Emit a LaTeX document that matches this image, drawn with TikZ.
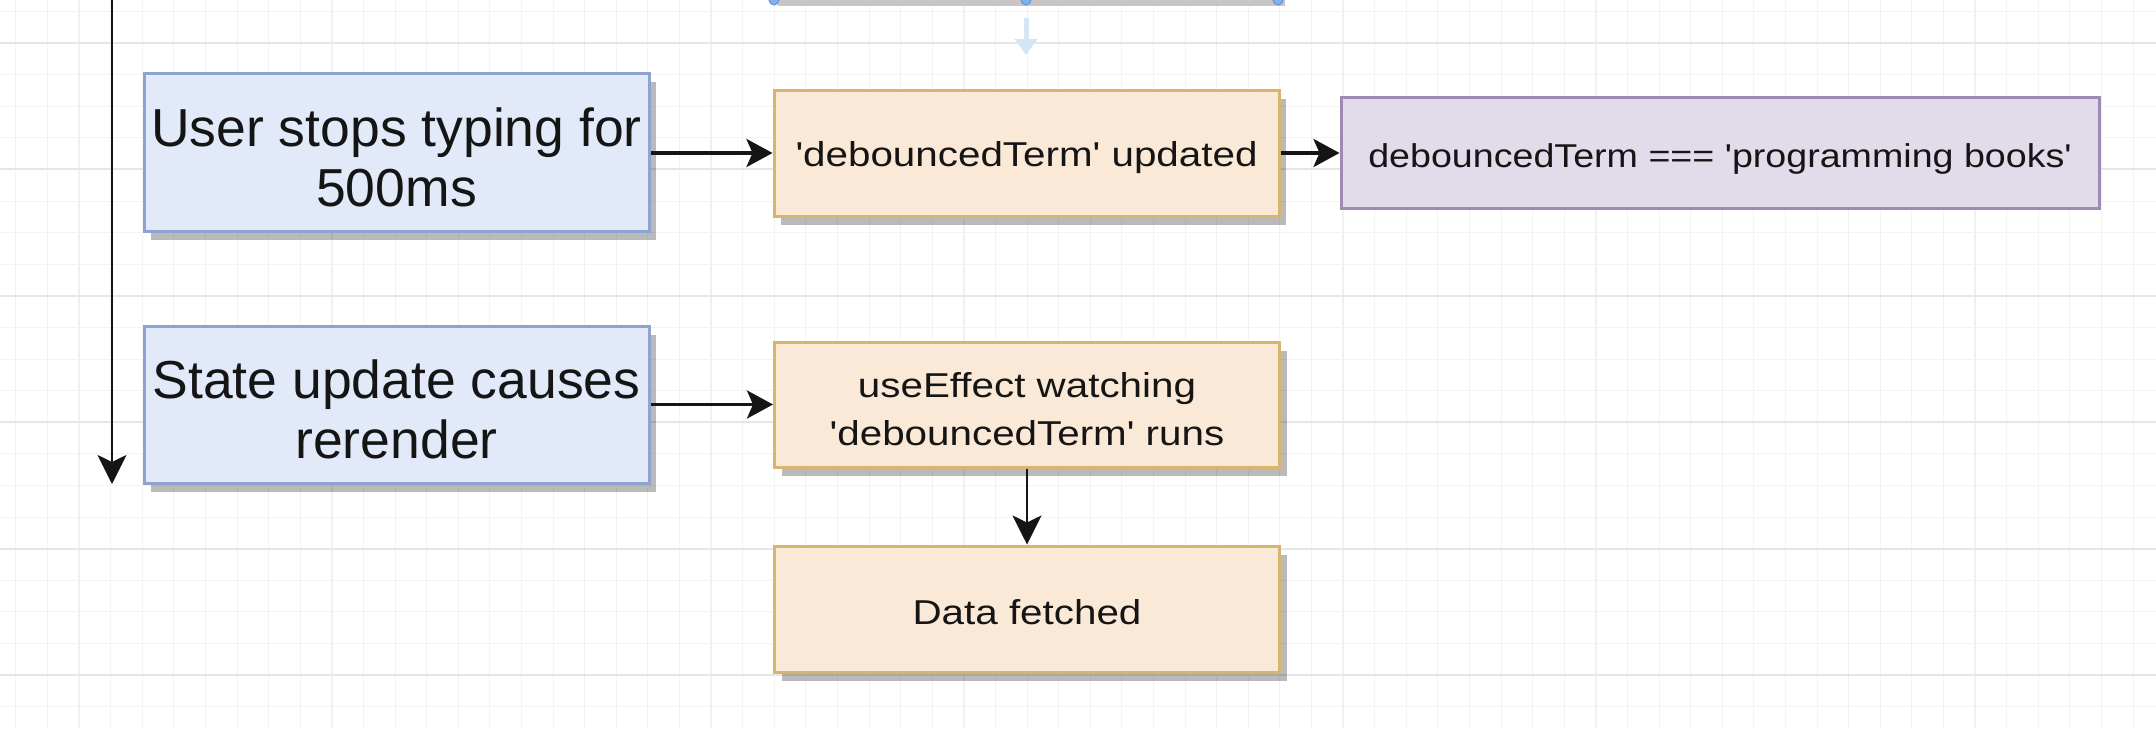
\documentclass[tikz,border=0pt]{standalone}
\usepackage{fontspec}
\setmainfont{Liberation Sans}
\newfontfamily\medfont[FakeStretch=1.17]{Liberation Sans}
\newfontfamily\smfont[FakeStretch=1.14]{Liberation Sans}
\usetikzlibrary{arrows.meta,shadows}
\definecolor{bluefill}{HTML}{E2E9F9}
\definecolor{blueline}{HTML}{8EA3CF}
\definecolor{orfill}{HTML}{FBE9D7}
\definecolor{orline}{HTML}{D8B56E}
\definecolor{pufill}{HTML}{E1DBEA}
\definecolor{puline}{HTML}{9D8BB3}
\definecolor{gridminor}{HTML}{F3F3F3}
\definecolor{gridmajorh}{HTML}{E6E6E6}
\definecolor{gridmajorv}{HTML}{F1F1F1}
\definecolor{topshadow}{HTML}{C8C5C2}
\definecolor{handle}{HTML}{7FB2E5}
\definecolor{fadedblue}{HTML}{D5E5F3}
\definecolor{ink}{HTML}{151515}
\tikzset{
  box/.style={draw, line width=1.5pt, inner sep=0pt},
  shad/.style={drop shadow={shadow xshift=3.5pt, shadow yshift=-4.5pt, opacity=0.27, fill=black}},
  bluebox/.style={box, shad, fill=bluefill, draw=blueline, minimum width=252.5pt},
  orbox/.style={box, shad, fill=orfill, draw=orline, minimum width=252.5pt},
  pubox/.style={box, fill=pufill, draw=puline, minimum width=379pt},
  bigtext/.style={inner sep=0pt, align=center, text=ink, yshift=-2.5pt,
    font=\fontsize{26.75pt}{30pt}\selectfont},
  medtext/.style={inner sep=0pt, align=center, text=ink, yshift=-2.5pt,
    font=\medfont\fontsize{17.25pt}{24pt}\selectfont},
  smtext/.style={inner sep=0pt, align=center, text=ink, yshift=-3pt,
    font=\smfont\fontsize{16.5pt}{22pt}\selectfont},
  harrow/.style={draw=ink, line width=1.8pt, -{Stealth[length=13pt, width=14pt, inset=3pt]}},
  varrow/.style={draw=ink, line width=1.3pt, -{Stealth[length=14.5pt, width=14.5pt, inset=3.5pt]}},
  fadedarrow/.style={draw=fadedblue, line width=2.5pt, -{Triangle[length=8pt, width=11pt]}},
  handledot/.style={circle, fill=handle, draw=handle!80!blue, line width=0.5pt, minimum size=5pt, inner sep=0pt}
}
\begin{document}
\begin{tikzpicture}[x=0.5pt, y=-0.5pt]
\useasboundingbox (0,0) rectangle (2156,728);
\fill[white] (0,0) rectangle (2156,728);
\begin{scope}
\clip (0,0) rectangle (2156,728);
% grid
\foreach \i in {0,...,68} {
  \pgfmathtruncatemacro{\m}{mod(\i,4)}
  \ifnum\m=2
    \draw[gridmajorv, line width=0.7pt] ({15.8+31.6*\i},0) -- ({15.8+31.6*\i},728);
  \else
    \draw[gridminor, line width=0.5pt] ({15.8+31.6*\i},0) -- ({15.8+31.6*\i},728);
  \fi
}
\foreach \j in {0,...,22} {
  \pgfmathtruncatemacro{\m}{mod(\j,4)}
  \ifnum\m=1
    \draw[gridmajorh, line width=1pt] (0,{11.4+31.6*\j}) -- (2156,{11.4+31.6*\j});
  \else
    \draw[gridminor, line width=0.5pt] (0,{11.4+31.6*\j}) -- (2156,{11.4+31.6*\j});
  \fi
}
% partially visible box at the top
\fill[topshadow] (778,-20) rectangle (1285,6);
\node[handledot] (h1) at (774,0) {};
\node[handledot] (h2) at (1026,0) {};
\node[handledot] (h3) at (1278,0) {};
\coordinate (fa) at (1026,18);
\coordinate (fb) at (1026,55);
\draw[fadedarrow] (fa) -- (fb);
\end{scope}

% boxes
\node[bluebox, minimum height=79pt,
  label={[bigtext]center:User stops typing for\\500ms}] (A) at (396.5,152) {};
\node[orbox, minimum height=63pt,
  label={[medtext]center:'debouncedTerm' updated}] (B) at (1026.5,153) {};
\node[pubox, minimum height=55.5pt,
  label={[smtext]center:debouncedTerm === 'programming books'}] (C) at (1720,152.5) {};
\node[bluebox, minimum height=78.5pt,
  label={[bigtext]center:State update causes\\rerender}] (D) at (396.5,404.5) {};
\node[orbox, minimum height=62.5pt,
  label={[medtext]center:useEffect watching\\'debouncedTerm' runs}] (E) at (1027,404.5) {};
\node[orbox, minimum height=63pt,
  label={[medtext, yshift=1pt]center:Data fetched}] (F) at (1027,609) {};

% connectors
\coordinate (vtop) at (112,-2);
\coordinate (vbot) at (112,484);
\draw[varrow] (vtop) -- (vbot);
\draw[harrow] (A.east |- B.west) -- (B.west);
\draw[harrow] (B.east) -- (C.west |- B.east);
\draw[harrow] (D.east) -- (E.west);
\draw[varrow] (E.south) -- (F.north);
\end{tikzpicture}
\end{document}
